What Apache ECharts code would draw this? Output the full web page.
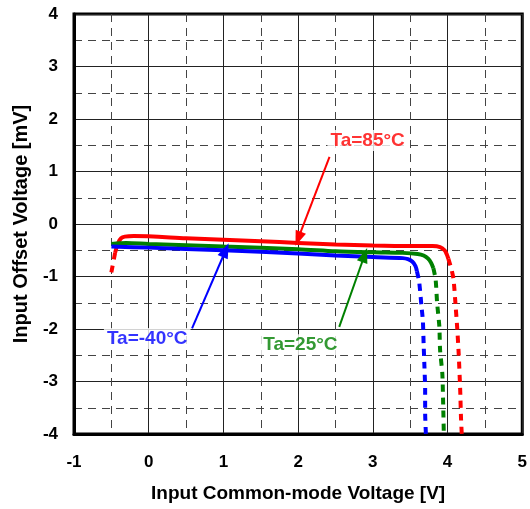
<!DOCTYPE html>
<html><head><meta charset="utf-8">
<script src="https://cdn.jsdelivr.net/npm/echarts@6/dist/echarts.min.js"></script>
<style>html,body{margin:0;padding:0;background:#fff}#c{width:530px;height:509px}</style>
</head><body><div id="c"></div>
<script>
// ---- data ----
var xTicks = [-1, 0, 1, 2, 3, 4, 5];
var yTicks = [-4, -3, -2, -1, 0, 1, 2, 3, 4];
var red85Solid = [[-0.45,-0.55],[-0.41,-0.36],[-0.37,-0.27],[-0.32,-0.24],[-0.2,-0.23],[0.5,-0.27],[1,-0.3],[1.5,-0.33],[2,-0.36],[2.5,-0.39],[3,-0.41],[3.5,-0.42],[3.8,-0.42],[3.9,-0.44],[3.96,-0.5],[3.99,-0.58],[4.01,-0.66]];
var red85Dash = [[-0.5,-0.92],[-0.45,-0.55]];
var red85Tail = [[4.01,-0.66],[4.05,-0.85],[4.08,-1.05],[4.11,-1.6],[4.13,-2.0],[4.15,-2.5],[4.17,-3.2],[4.18,-3.7],[4.19,-4]];
var green25Solid = [[-0.5,-0.38],[-0.3,-0.36],[0,-0.38],[1,-0.43],[2,-0.48],[2.5,-0.52],[3,-0.54],[3.4,-0.55],[3.6,-0.57],[3.68,-0.6],[3.74,-0.66],[3.78,-0.74],[3.81,-0.84]];
var green25Tail = [[3.81,-0.84],[3.84,-1.05],[3.86,-1.5],[3.89,-1.95],[3.9,-2.4],[3.93,-2.85],[3.94,-3.35],[3.95,-4]];
var blueM40Solid = [[-0.5,-0.43],[0,-0.45],[1,-0.5],[2,-0.56],[2.5,-0.6],[3,-0.63],[3.4,-0.65],[3.47,-0.67],[3.53,-0.72],[3.57,-0.8],[3.59,-0.9]];
var blueM40Tail = [[3.59,-0.9],[3.62,-1.1],[3.65,-1.55],[3.67,-1.85],[3.68,-2.3],[3.69,-2.7],[3.7,-3.15],[3.7,-3.6],[3.71,-4]];
var labels = [[2.93,1.59,'Ta=85°C','#ff0000'],[-0.02,-2.18,'Ta=-40°C','#0000ff'],[2.03,-2.3,'Ta=25°C','#008000']];
var arrows = [[[2.42,1.28],[2.0,-0.28],'#ff0000'],[[0.58,-1.99],[1.03,-0.5],'#0000ff'],[[2.55,-1.96],[2.89,-0.59],'#008000']];

var RED='#ff0000', GREEN='#008000', BLUE='#0000ff';
var FONT='Liberation Sans';
function solid(d,c){return {type:'line',data:d,showSymbol:false,smooth:0.3,lineStyle:{color:c,width:4},z:3,silent:true};}
function dash(d,c){return {type:'line',data:d,showSymbol:false,smooth:0.2,lineStyle:{color:c,width:4,type:[7,6]},z:3,silent:true};}

var series = [
  dash(red85Dash,RED), solid(red85Solid,RED), dash(red85Tail,RED),
  solid(green25Solid,GREEN), dash(green25Tail,GREEN),
  solid(blueM40Solid,BLUE), dash(blueM40Tail,BLUE)
];
arrows.forEach(function(a){
  series.push({type:'line',data:[],silent:true,z:5,
    markLine:{silent:true,symbol:['none','triangle'],symbolSize:[11,15],animation:false,
      lineStyle:{color:a[2],width:2,type:'solid'},label:{show:false},
      data:[[{coord:a[0]},{coord:a[1]}]]}});
});
series.push({type:'scatter',symbolSize:0,silent:true,z:6,
  data:labels.map(function(l){return {value:[l[0],l[1]],label:{show:true,position:'inside',formatter:l[2],color:l[3],fontSize:19,fontWeight:'bold',fontFamily:FONT,backgroundColor:'#fff',padding:[1,3]}};})});

var axisCommon = {
  type:'value', interval:1,
  axisLine:{show:true,onZero:false,lineStyle:{color:'#000',width:3}},
  axisTick:{show:false},
  minorTick:{show:false,splitNumber:2},
  splitLine:{show:true,lineStyle:{color:'#222',width:1}},
  minorSplitLine:{show:true,lineStyle:{color:'#444',width:1,type:[8,6]}},
  axisLabel:{color:'#000',fontSize:17,fontWeight:'bold',fontFamily:FONT},
  nameLocation:'middle',
  nameTextStyle:{color:'#000',fontSize:19,fontWeight:'bold',fontFamily:FONT}
};
var chart = echarts.init(document.getElementById('c'),null,{renderer:'canvas'});
chart.setOption({
  animation:false,
  grid:{left:74,right:4,top:14,bottom:75,show:true,borderColor:'#000',borderWidth:3,backgroundColor:'#fff'},
  xAxis:Object.assign({},axisCommon,{min:xTicks[0],max:xTicks[xTicks.length-1],name:'Input Common-mode Voltage [V]',nameGap:50,
    axisLabel:Object.assign({},axisCommon.axisLabel,{margin:20})}),
  yAxis:Object.assign({},axisCommon,{min:yTicks[0],max:yTicks[yTicks.length-1],name:'Input Offset Voltage [mV]',nameGap:43,
    nameTextStyle:Object.assign({},axisCommon.nameTextStyle,{fontSize:20}),
    axisLabel:Object.assign({},axisCommon.axisLabel,{margin:16})}),
  series:series
});
</script></body></html>
